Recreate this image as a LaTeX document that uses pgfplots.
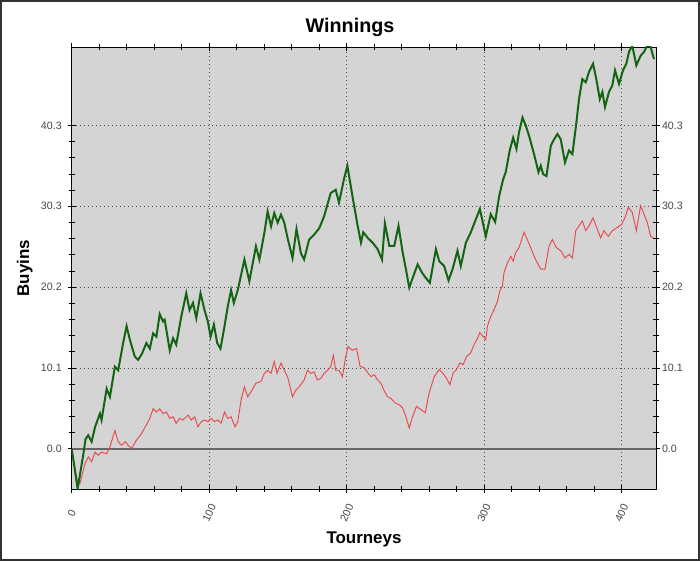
\documentclass[border=0pt]{standalone}
\usepackage{pgfplots}
\pgfplotsset{compat=1.18}
\usepackage{fontspec}
\setmainfont{Liberation Sans}
\definecolor{bgc}{RGB}{212,212,212}
\definecolor{grn}{RGB}{20,100,20}
\definecolor{rd}{RGB}{232,72,76}
\definecolor{tl}{RGB}{70,70,70}
\begin{document}
\begin{tikzpicture}
\useasboundingbox (-53.8pt,-54pt) rectangle (471.2pt,366.75pt);
\draw[line width=1.2pt, black!80] (-53.2pt,-53.4pt) rectangle (470.6pt,366.15pt);
\pgfplotsset{
  common/.style={
    at={(0pt,0pt)}, anchor=south west,
    scale only axis, width=438.2pt, height=331.5pt,
    xmin=0, xmax=425, ymin=-5.0, ymax=50.1,
    ytick={0,10.08,20.16,30.24,40.32},
    yticklabels={0.0,10.1,20.2,30.3,40.3},
    xtick={0,100,200,300,400},
    /pgf/number format/assume math mode=true,
    tick label style={font=\fontsize{8}{9.6}\selectfont, text=tl},
  }
}
\begin{axis}[common,
  axis background/.style={fill=bgc},
  axis line style={black, line width=0.6pt},
  minor x tick num=4, minor y tick num=4,
  tick align=center,
  major tick length=6pt, minor tick length=4.5pt,
  every tick/.style={black, line width=0.6pt},
  grid=major,
  major grid style={black!70, line width=0.6pt, dash pattern=on 1pt off 2pt},
  xticklabel style={yshift=-15pt, rotate=65, anchor=center},
  yticklabel style={xshift=-1pt},
]
\addplot[black!60, line width=1pt, forget plot] coordinates {(0,0) (425,0)};
\addplot[rd, line width=0.7pt] coordinates {
(0,0)(4.5,-4.5)(6,-4.3)(9.7,-1.8)(12.1,-1.0)(14.5,-1.6)(16.9,-0.4)(19.3,-0.8)(21.7,-0.4)(25.4,-0.6)(27.8,0.25)(31.4,2.3)(33.8,0.9)(36.2,0.45)(39.1,0.9)(41,0.45)(43.5,0.05)(47.1,1.1)(50.7,1.9)(54.3,3.0)(56.8,3.8)(59.2,5.0)(61.6,4.6)(64,5.0)(66.4,4.4)(68.8,4.6)(71.3,3.8)(73.7,4.0)(76,3.2)(78.5,3.8)(80.9,3.6)(84.5,4.2)(87,3.6)(89.4,4.0)(91.8,2.75)(94.2,3.4)(96.6,3.6)(99,3.4)(101.4,3.8)(103.9,3.4)(106.3,3.6)(108.7,3.2)(111.1,4.6)(113.5,3.8)(115.9,4.0)(118.8,2.75)(120.8,3.4)(123.2,6.1)(125.6,7.75)(128,6.5)(130.4,7.1)(134,8.2)(137.7,8.4)(140.1,9.4)(142.5,9.8)(145,9.4)(147.3,10.9)(149.3,9.4)(152.2,10.7)(154.6,9.8)(157,9.0)(160.6,6.5)(163,7.3)(165.5,7.75)(169.1,8.6)(171.5,9.8)(173.9,9.4)(176.3,9.6)(178.7,8.6)(181.2,8.8)(183.6,9.4)(186,9.8)(188.4,10.25)(190.3,11.7)(192,9.8)(194.4,9.8)(196.9,9.0)(199.3,11.5)(201,12.75)(204.1,12.3)(207.2,12.5)(209.7,10.3)(212.8,10.1)(215.3,9.5)(217.7,9.0)(220.1,9.25)(222.5,8.6)(224.9,8.2)(227.4,7.2)(229.8,6.5)(232.2,6.3)(235.4,5.7)(238.3,5.5)(240.7,5.1)(243.1,4.0)(245.5,2.6)(247.9,4.0)(250.8,5.3)(254,4.9)(257.1,4.5)(260,7.0)(263.7,9.0)(267.3,9.9)(269.7,9.5)(272.6,8.8)(275.1,8.0)(277.5,9.5)(279.9,9.9)(282.3,10.7)(284.7,10.5)(287.2,11.5)(290.3,12.0)(292.7,13.0)(295.2,13.8)(296.9,14.5)(299.3,14.0)(301.2,13.6)(302.4,15.3)(304.8,16.5)(307.3,17.4)(309.7,18.4)(311.4,19.7)(313.3,20.3)(314.5,22.0)(317,23.2)(319.4,24.0)(321.1,23.4)(323,24.5)(325.4,25.1)(329,27.0)(331.4,26.1)(333.8,25.1)(337.4,23.6)(341.2,22.4)(344.3,22.4)(347.2,25.3)(349.6,26.1)(352.5,25.1)(355.7,24.7)(358.8,23.8)(361.7,24.25)(364.2,23.8)(366.6,27.2)(369,27.8)(371.4,28.4)(373.9,27.2)(376.3,27.8)(379.2,28.8)(382.3,27.4)(384.7,26.3)(387.1,27.2)(390.3,26.5)(393.2,27.2)(396.9,27.6)(400,28.0)(402.4,28.8)(404.8,30.1)(407.7,29.5)(410.7,27.2)(413.8,30.3)(416.3,29.25)(418.7,28.2)(421.1,26.5)(423,26.3)
};
\addplot[grn, line width=1.5pt] coordinates {
(0,0)(4.3,-4.96)(8.5,-0.6)(10,1.2)(12,1.7)(14.5,0.9)(17,2.75)(20.5,4.4)(21.7,3.6)(25.4,7.5)(27.8,6.5)(31.4,10.25)(33.8,9.8)(37.4,13.2)(39.9,15.3)(42.3,13.6)(45.9,11.5)(48.3,11.1)(51.2,11.9)(54.3,13.2)(56.8,12.5)(59.2,14.4)(61.6,14.0)(64,16.8)(66.4,15.9)(67.6,16.1)(71.3,12.3)(73.7,13.8)(76,13)(79.7,16.5)(83.3,19.4)(85.7,17.3)(88.2,18.2)(90.6,16.3)(93.7,19.4)(96.6,17.3)(99,15.9)(101,14)(103.4,15.5)(105.8,13.2)(108.2,12.5)(111.1,15.25)(113.5,17.75)(115.9,19.8)(117.9,18.2)(120.8,19.8)(125.6,23.6)(129.2,20.9)(134,25.25)(136.5,23.6)(140.1,26.9)(142.5,29.6)(145,27.75)(147.3,29.4)(149.8,28.2)(152.2,29.2)(154.6,28.2)(157,26.3)(160.6,23.8)(163.5,27.4)(166.7,24.4)(169,23.6)(172.7,26.1)(176.3,26.7)(180,27.5)(183.6,29)(188.4,31.9)(192,32.3)(194.4,30.7)(198,33.6)(200.5,35.3)(204.2,31.5)(208,27.8)(210.4,25.7)(212.1,27.0)(215.3,26.3)(218.9,25.7)(222.5,24.9)(225.7,23.6)(227.8,28.1)(231,25.3)(234.6,25.3)(237.7,27.8)(240.7,24.5)(243.1,22.4)(245.5,20.1)(248.4,21.5)(251.6,23.0)(254.7,22.0)(257.6,21.3)(260.5,20.7)(264.9,24.9)(267.3,23.4)(270.9,22.8)(274.1,21.0)(277,22.4)(280.6,24.7)(283,22.8)(286.7,25.7)(290.3,27.0)(293.9,28.6)(296.9,29.9)(298.8,28.4)(301.2,26.5)(304.8,29.25)(308,28.3)(310.9,31.5)(313.8,33.6)(315.7,34.5)(318.6,37.2)(321.1,38.8)(323.5,37.4)(325.4,39.5)(327.9,41.3)(330.3,40.3)(332.7,39.0)(336.3,36.75)(339.5,34.5)(341.2,35.3)(342.9,34.25)(345.3,34.0)(348.5,37.8)(350.9,38.6)(353.3,39.25)(355.7,38.6)(358.8,35.7)(361.7,37.2)(364.2,36.75)(367.1,40.7)(369,43.6)(371.4,46.1)(373.9,45.7)(376.3,47.0)(379.2,48.0)(381.6,46.1)(384.1,43.6)(386,44.5)(387.9,42.6)(390.8,44.5)(393.2,45.3)(395.2,47.2)(398.1,45.5)(401,47.2)(403.4,48.0)(405.4,49.5)(407.7,50.3)(410.7,47.8)(413.8,49.0)(416.3,49.5)(418.7,50.3)(421.1,50.1)(423.5,48.6)
};
\end{axis}
\begin{axis}[common,
  hide x axis,
  axis y line*=right,
  axis line style={draw=none},
  ytick style={draw=none},
  yticklabel pos=right,
  yticklabel style={xshift=1pt},
]
\end{axis}
\node[anchor=base, font=\fontsize{14.8}{17}\selectfont\bfseries] at (208.7pt,342pt) {Winnings};
\node[anchor=base, font=\fontsize{12.7}{15}\selectfont\bfseries] at (219.2pt,-40.5pt) {Tourneys};
\node[anchor=base, rotate=90, font=\fontsize{12.7}{15}\selectfont\bfseries] at (-32pt,165.75pt) {Buyins};
\end{tikzpicture}
\end{document}
